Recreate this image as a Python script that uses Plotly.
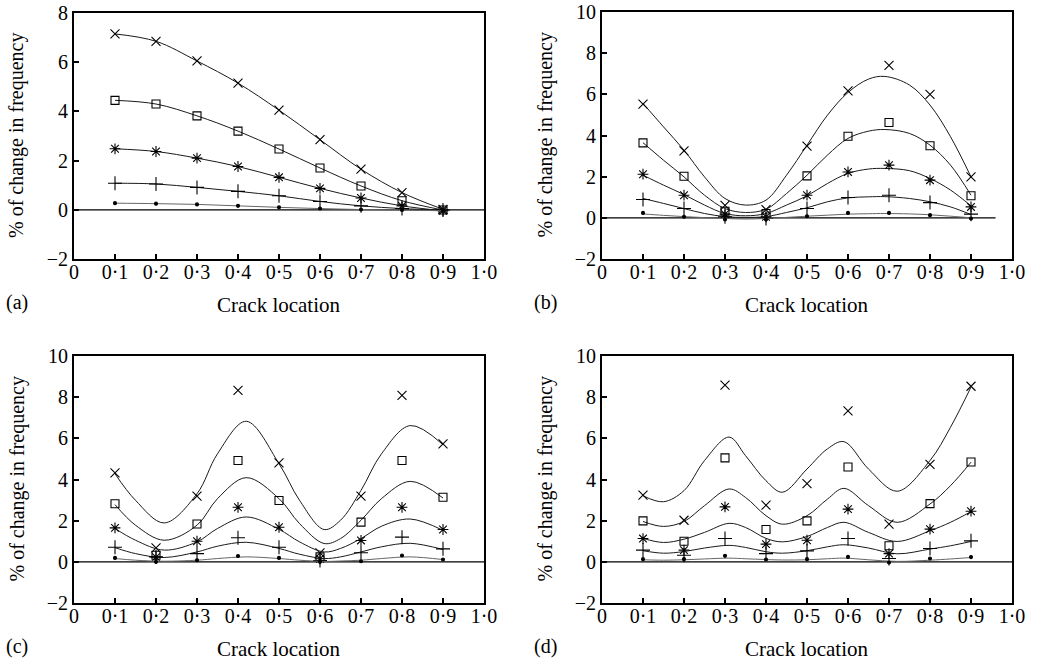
import plotly.graph_objects as go

# ---------------- data ----------------
crack_x = [0.1, 0.2, 0.3, 0.4, 0.5, 0.6, 0.7, 0.8, 0.9]
x_tickvals = [0, 0.1, 0.2, 0.3, 0.4, 0.5, 0.6, 0.7, 0.8, 0.9, 1.0]
x_ticktext = ["0", "0·1", "0·2", "0·3", "0·4", "0·5", "0·6", "0·7", "0·8", "0·9", "1·0"]
ya_tickvals = [-2, 0, 2, 4, 6, 8]
ya_ticktext = ["−2", "0", "2", "4", "6", "8"]
yb_tickvals = [-2, 0, 2, 4, 6, 8, 10]
yb_ticktext = ["−2", "0", "2", "4", "6", "8", "10"]
panel_labels = ["(a)", "(b)", "(c)", "(d)"]

# panel (a) measured points (curves pass through them)
a_cross = [7.15, 6.85, 6.05, 5.15, 4.05, 2.85, 1.65, 0.70, 0.02]
a_square = [4.45, 4.30, 3.82, 3.20, 2.47, 1.70, 0.97, 0.37, -0.01]
a_star = [2.48, 2.37, 2.10, 1.76, 1.32, 0.87, 0.48, 0.16, -0.04]
a_plus = [1.08, 1.05, 0.91, 0.75, 0.57, 0.34, 0.16, 0.05, -0.01]
a_dot = [0.27, 0.25, 0.22, 0.16, 0.10, 0.05, 0.01, -0.01, -0.04]

# panel (b)
b_cross = [5.52, 3.25, 0.61, 0.40, 3.48, 6.17, 7.41, 6.00, 1.99]
b_square = [3.64, 2.02, 0.32, 0.21, 2.04, 3.96, 4.63, 3.50, 1.07]
b_star = [2.12, 1.10, 0.18, 0.05, 1.10, 2.23, 2.56, 1.83, 0.53]
b_plus = [0.89, 0.45, 0.05, -0.03, 0.45, 0.99, 1.10, 0.74, 0.18]
b_dot = [0.24, 0.05, -0.08, -0.08, 0.08, 0.24, 0.24, 0.13, -0.03]
b_curve_x = [0.1, 0.15, 0.2, 0.25, 0.3, 0.35, 0.4, 0.45, 0.5, 0.55, 0.6, 0.65, 0.69, 0.75, 0.8, 0.85, 0.9]
b_curve_cross = [5.56, 4.42, 3.29, 1.99, 0.94, 0.62, 0.86, 2.07, 3.53, 4.99, 6.09, 6.74, 6.87, 6.45, 5.48, 3.94, 1.99]
b_curve_square = [3.65, 2.80, 1.99, 1.10, 0.45, 0.26, 0.42, 1.18, 2.07, 3.05, 3.86, 4.21, 4.29, 4.10, 3.53, 2.56, 1.10]
b_curve_star = [2.07, 1.59, 1.13, 0.62, 0.21, 0.10, 0.21, 0.62, 1.07, 1.67, 2.16, 2.37, 2.40, 2.29, 1.91, 1.35, 0.58]
b_curve_plus = [0.94, 0.70, 0.45, 0.21, 0.06, 0.02, 0.06, 0.26, 0.49, 0.78, 0.97, 1.02, 1.03, 0.94, 0.78, 0.53, 0.16]
b_curve_dot = [0.19, 0.12, 0.06, 0.01, -0.03, -0.06, -0.03, 0.02, 0.08, 0.13, 0.18, 0.20, 0.21, 0.19, 0.15, 0.08, 0.0]

# panel (c)
c_cross = [4.32, 0.68, 3.19, 8.33, 4.81, 0.44, 3.19, 8.09, 5.73]
c_square = [2.82, 0.32, 1.84, 4.92, 2.98, 0.24, 1.93, 4.92, 3.14]
c_star = [1.65, 0.23, 1.00, 2.65, 1.68, 0.15, 1.04, 2.65, 1.57]
c_plus = [0.71, 0.24, 0.40, 1.17, 0.71, 0.06, 0.44, 1.20, 0.63]
c_dot = [0.19, 0.0, 0.08, 0.28, 0.19, 0.0, 0.03, 0.31, 0.11]
c_curve_x = [0.1, 0.15, 0.22, 0.3, 0.35, 0.42, 0.5, 0.55, 0.61, 0.65, 0.7, 0.75, 0.82, 0.9]
c_curve_cross = [4.28, 2.99, 1.89, 3.31, 5.25, 6.83, 4.77, 2.99, 1.57, 2.02, 3.47, 5.25, 6.62, 5.69]
c_curve_square = [2.78, 1.78, 1.05, 1.78, 3.07, 4.09, 3.07, 1.86, 0.89, 1.13, 2.02, 3.07, 3.91, 3.10]
c_curve_star = [1.62, 1.05, 0.57, 0.97, 1.62, 2.18, 1.58, 0.97, 0.48, 0.65, 1.13, 1.73, 2.08, 1.53]
c_curve_plus = [0.69, 0.40, 0.21, 0.48, 0.76, 0.95, 0.65, 0.37, 0.16, 0.24, 0.48, 0.73, 0.90, 0.60]
c_curve_dot = [0.16, 0.08, 0.03, 0.08, 0.16, 0.24, 0.16, 0.08, 0.02, 0.04, 0.08, 0.16, 0.24, 0.11]

# panel (d)
d_cross = [3.24, 2.02, 8.58, 2.75, 3.80, 7.33, 1.83, 4.74, 8.53]
d_square = [1.99, 1.00, 5.05, 1.57, 1.99, 4.61, 0.78, 2.83, 4.85]
d_star = [1.13, 0.57, 2.67, 0.86, 1.05, 2.56, 0.40, 1.59, 2.46]
d_plus = [0.57, 0.32, 1.13, 0.40, 0.53, 1.13, 0.16, 0.65, 1.02]
d_dot = [0.13, 0.13, 0.29, 0.11, 0.13, 0.24, -0.03, 0.16, 0.23]
d_curve_x = [0.1, 0.15, 0.2, 0.25, 0.31, 0.35, 0.4, 0.44, 0.5, 0.55, 0.59, 0.65, 0.72, 0.8, 0.85, 0.9]
d_curve_cross = [3.21, 2.92, 3.46, 4.92, 6.06, 5.16, 3.94, 3.38, 4.51, 5.49, 5.84, 4.51, 3.43, 4.92, 6.54, 8.49]
d_curve_square = [1.96, 1.72, 1.96, 2.73, 3.54, 3.13, 2.24, 1.83, 2.24, 3.05, 3.57, 2.73, 1.92, 2.81, 3.70, 4.84]
d_curve_star = [1.14, 0.94, 1.10, 1.43, 1.87, 1.67, 1.14, 0.97, 1.23, 1.67, 1.92, 1.43, 0.99, 1.51, 1.92, 2.44]
d_curve_plus = [0.54, 0.42, 0.50, 0.67, 0.80, 0.70, 0.49, 0.42, 0.54, 0.73, 0.83, 0.67, 0.39, 0.62, 0.78, 0.99]
d_curve_dot = [0.10, 0.08, 0.10, 0.14, 0.18, 0.15, 0.11, 0.09, 0.10, 0.15, 0.18, 0.10, 0.02, 0.08, 0.14, 0.21]

baseline_end = [1.0, 0.96, 1.0, 1.0]

# ---------------- styling ----------------
FONT = "Liberation Serif, Times New Roman, serif"
symbols = ["x-thin-open", "square-open", "asterisk-open", "cross-thin-open", "circle"]
msizes = [9, 8, 9, 10, 3]
line_colors = ["#1a1a1a", "#1a1a1a", "#1a1a1a", "#1a1a1a", "#666"]

panels = [
    dict(pts=[a_cross, a_square, a_star, a_plus, a_dot], cx=crack_x,
         curves=[a_cross, a_square, a_star, a_plus, a_dot]),
    dict(pts=[b_cross, b_square, b_star, b_plus, b_dot], cx=b_curve_x,
         curves=[b_curve_cross, b_curve_square, b_curve_star, b_curve_plus, b_curve_dot]),
    dict(pts=[c_cross, c_square, c_star, c_plus, c_dot], cx=c_curve_x,
         curves=[c_curve_cross, c_curve_square, c_curve_star, c_curve_plus, c_curve_dot]),
    dict(pts=[d_cross, d_square, d_star, d_plus, d_dot], cx=d_curve_x,
         curves=[d_curve_cross, d_curve_square, d_curve_star, d_curve_plus, d_curve_dot]),
]

W, H = 1039, 662
# pixel boxes (left, right, top, bottom)
boxes = [(74, 484, 13, 259), (602, 1012, 12, 259), (74, 484, 356, 603), (602, 1012, 356, 603)]

fig = go.Figure()
for i, p in enumerate(panels):
    xa = "x" if i == 0 else f"x{i+1}"
    ya = "y" if i == 0 else f"y{i+1}"
    # zero baseline
    fig.add_trace(go.Scatter(x=[0, baseline_end[i]], y=[0, 0], mode="lines",
                             line=dict(color="black", width=1.3),
                             xaxis=xa, yaxis=ya, showlegend=False, hoverinfo="skip"))
    for k in range(5):
        fig.add_trace(go.Scatter(x=p["cx"], y=p["curves"][k], mode="lines",
                                 line=dict(color=line_colors[k], width=1, shape="spline", smoothing=1.0),
                                 xaxis=xa, yaxis=ya, showlegend=False, hoverinfo="skip"))
        fig.add_trace(go.Scatter(x=crack_x, y=p["pts"][k], mode="markers",
                                 marker=dict(symbol=symbols[k], size=msizes[k], color="black",
                                             line=dict(color="black", width=1.1)),
                                 xaxis=xa, yaxis=ya, showlegend=False, cliponaxis=False))

axis_common = dict(showline=True, mirror=True, linecolor="black", linewidth=2,
                   ticks="inside", ticklen=5, tickwidth=1.5, tickcolor="black",
                   showgrid=False, zeroline=False, automargin=False,
                   tickfont=dict(family=FONT, size=20, color="black"))

layout = dict(width=W, height=H, margin=dict(l=0, r=0, t=0, b=0, autoexpand=False),
              paper_bgcolor="white", plot_bgcolor="white",
              font=dict(family=FONT, color="black"), showlegend=False)

annotations = []
for i, (l, r, t, b) in enumerate(boxes):
    sx = "" if i == 0 else str(i + 1)
    layout["xaxis" + sx] = dict(axis_common, domain=[l / W, r / W], range=[0, 1.0],
                                tickvals=x_tickvals, ticktext=x_ticktext,
                                ticklabelstandoff=-6, anchor="y" + sx)
    yt = (ya_tickvals, ya_ticktext, [-2, 8]) if i == 0 else (yb_tickvals, yb_ticktext, [-2, 10])
    layout["yaxis" + sx] = dict(axis_common, domain=[(H - b) / H, (H - t) / H], range=yt[2],
                                tickvals=yt[0], ticktext=yt[1], anchor="x" + sx)
    # axis titles
    annotations.append(dict(text="Crack location", xref="paper", yref="paper",
                            x=(l + r) / 2 / W, y=(H - (b + 46)) / H, showarrow=False,
                            xanchor="center", yanchor="middle",
                            font=dict(family=FONT, size=21, color="black")))
    annotations.append(dict(text="% of change in frequency", xref="paper", yref="paper",
                            x=(l - 57) / W, y=(H - (t + b) / 2) / H, showarrow=False,
                            textangle=-90, xanchor="center", yanchor="middle",
                            font=dict(family=FONT, size=20, color="black")))
    annotations.append(dict(text=panel_labels[i], xref="paper", yref="paper",
                            x=(l - 57) / W, y=(H - (b + 43)) / H, showarrow=False,
                            xanchor="center", yanchor="middle",
                            font=dict(family=FONT, size=20, color="black")))

layout["annotations"] = annotations
fig.update_layout(**layout)
fig.write_html("out.html")
